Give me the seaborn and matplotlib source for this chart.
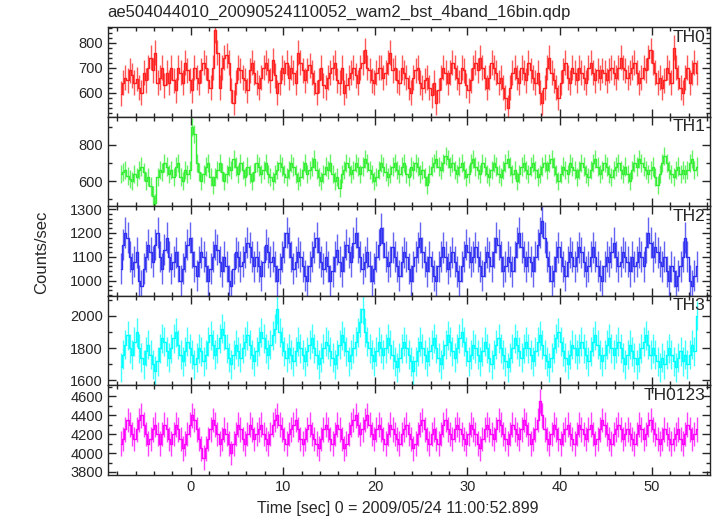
import numpy as np
import matplotlib
matplotlib.use('Agg')
import matplotlib.pyplot as plt
from matplotlib.ticker import MultipleLocator
import seaborn as sns

sns.set_style('ticks')
plt.rcParams['font.family'] = ['Liberation Sans', 'DejaVu Sans']

# time bins (s), 0.25 s per bin
t_start = -7.625
bin_size = 0.25

th0 = [595, 640, 660, 650, 690, 670, 640, 655, 620, 600, 680, 650, 700, 740, 690, 760, 640, 660, 700, 630,
       680, 640, 700, 650, 610, 700, 680, 640, 720, 690, 650, 610, 700, 660, 640, 690, 720, 700, 650, 620,
       700, 850, 760, 620, 700, 740, 750, 720, 610, 560, 640, 700, 690, 660, 650, 610, 690, 720, 680, 640,
       620, 660, 700, 720, 690, 650, 730, 670, 600, 640, 700, 680, 720, 660, 700, 680, 640, 760, 720, 690,
       650, 690, 710, 680, 640, 600, 650, 700, 630, 620, 660, 680, 700, 720, 650, 640, 700, 600, 630, 660,
       680, 700, 670, 640, 700, 720, 770, 700, 690, 650, 640, 680, 700, 700, 660, 680, 720, 760, 690, 700,
       650, 640, 700, 680, 660, 620, 600, 660, 690, 700, 640, 620, 650, 660, 620, 590, 640, 560, 610, 660,
       700, 680, 640, 680, 720, 700, 660, 640, 700, 690, 630, 610, 650, 700, 720, 690, 740, 700, 660, 620,
       660, 720, 700, 680, 640, 660, 620, 580, 540, 620, 680, 700, 660, 640, 700, 680, 650, 720, 690, 660,
       640, 680, 600, 560, 620, 700, 740, 680, 650, 620, 580, 640, 690, 720, 660, 640, 700, 680, 650, 700,
       680, 660, 640, 700, 720, 680, 650, 690, 660, 690, 680, 650, 690, 700, 680, 660, 700, 740, 700, 690,
       660, 680, 700, 720, 680, 640, 660, 700, 690, 740, 770, 720, 680, 640, 660, 620, 650, 700, 680, 640,
       780, 700, 660, 620, 600, 660, 700, 640, 680, 720, 680]

th1 = [640, 650, 660, 630, 610, 600, 640, 620, 660, 680, 650, 600, 620, 570, 520, 480, 620, 660, 650, 700,
       680, 640, 660, 620, 680, 700, 620, 600, 660, 640, 660, 900, 860, 700, 650, 600, 640, 680, 700, 620,
       580, 620, 660, 700, 650, 600, 640, 680, 660, 720, 680, 640, 700, 660, 620, 680, 640, 600, 650, 700,
       680, 640, 660, 700, 640, 620, 600, 640, 660, 700, 680, 640, 620, 660, 700, 680, 640, 600, 620, 660,
       700, 640, 660, 680, 720, 660, 620, 600, 640, 680, 660, 700, 640, 600, 620, 560, 640, 660, 700, 680,
       640, 660, 700, 680, 640, 680, 720, 700, 660, 640, 600, 620, 660, 700, 680, 650, 620, 640, 680, 700,
       660, 640, 680, 700, 640, 620, 680, 660, 700, 680, 640, 660, 620, 580, 640, 680, 700, 720, 680, 660,
       700, 740, 720, 680, 700, 660, 640, 680, 700, 660, 620, 640, 700, 720, 680, 660, 640, 700, 680, 640,
       620, 660, 700, 680, 640, 620, 660, 700, 720, 680, 640, 660, 600, 640, 680, 700, 660, 640, 680, 700,
       660, 620, 640, 680, 700, 660, 700, 720, 680, 640, 600, 640, 680, 660, 640, 700, 680, 660, 620, 660,
       700, 680, 640, 620, 660, 700, 720, 680, 640, 660, 700, 680, 640, 620, 660, 680, 700, 660, 640, 680,
       640, 600, 660, 700, 680, 720, 700, 680, 660, 640, 660, 680, 620, 580, 640, 700, 740, 700, 660, 640,
       620, 660, 680, 640, 660, 640, 660, 700, 720, 660, 680]

th2 = [1050, 1150, 1200, 1180, 1100, 1050, 1080, 1120, 1000, 980, 1050, 1100, 1150, 1120, 1080, 1150, 1200, 1100, 1050, 1130,
       1180, 1100, 1050, 1080, 1120, 1060, 1000, 1050, 1100, 1150, 1180, 1120, 1060, 1020, 1080, 1120, 1100, 1060, 1000, 1050,
       1100, 1150, 1130, 1080, 1040, 1100, 1060, 1000, 980, 1050, 1120, 1100, 1060, 1080, 1120, 1160, 1140, 1100, 1060, 1100,
       1060, 1020, 1080, 1150, 1120, 1080, 1100, 1060, 1000, 1050, 1100, 1140, 1200, 1160, 1100, 1050, 1080, 1120, 1100, 1060,
       1020, 1000, 1060, 1100, 1140, 1180, 1120, 1080, 1050, 1100, 1060, 1000, 1040, 1100, 1130, 1080, 1040, 1100, 1150, 1120,
       1080, 1160, 1200, 1140, 1100, 1050, 1080, 1120, 1060, 1000, 1050, 1100, 1150, 1220, 1160, 1100, 1060, 1080, 1140, 1100,
       1060, 1020, 1080, 1120, 1100, 1050, 1000, 1060, 1100, 1140, 1180, 1120, 1080, 1040, 1100, 1060, 1020, 1000, 1060, 1100,
       1140, 1100, 1050, 1080, 1120, 1080, 1040, 1000, 1060, 1100, 1150, 1120, 1080, 1100, 1140, 1100, 1060, 1020, 1080, 1120,
       1100, 1060, 1120, 1180, 1150, 1100, 1040, 1060, 1100, 1080, 1040, 1100, 1160, 1200, 1140, 1100, 1060, 1100, 1080, 1040,
       1100, 1150, 1200, 1250, 1180, 1100, 1060, 1000, 1040, 1100, 1140, 1100, 1060, 1020, 1080, 1120, 1100, 1060, 1100, 1140,
       1120, 1080, 1040, 1060, 1100, 1140, 1100, 1060, 1020, 1000, 1060, 1100, 1080, 1120, 1160, 1100, 1060, 1080, 1120, 1100,
       1080, 1040, 1100, 1060, 1080, 1120, 1100, 1060, 1140, 1200, 1160, 1100, 1140, 1120, 1080, 1060, 1100, 1040, 1000, 1060,
       1040, 980, 1020, 1060, 1100, 1180, 1100, 1000, 980, 1020, 1060]

th3 = [1680, 1760, 1820, 1880, 1800, 1760, 1840, 1900, 1800, 1740, 1700, 1780, 1820, 1760, 1700, 1660, 1720, 1800, 1860, 1840,
       1780, 1740, 1800, 1860, 1900, 1820, 1760, 1720, 1780, 1840, 1800, 1760, 1700, 1740, 1800, 1780, 1720, 1760, 1840, 1880,
       1820, 1760, 1800, 1860, 1920, 1880, 1800, 1740, 1700, 1760, 1820, 1780, 1740, 1800, 1840, 1880, 1820, 1760, 1720, 1780,
       1840, 1900, 1860, 1800, 1760, 1820, 1880, 1920, 2040, 1900, 1840, 1780, 1740, 1800, 1760, 1720, 1780, 1840, 1800, 1760,
       1720, 1780, 1820, 1860, 1800, 1760, 1700, 1740, 1800, 1840, 1820, 1780, 1740, 1700, 1760, 1820, 1880, 1840, 1780, 1720,
       1760, 1800, 1840, 1900, 1960, 2040, 1900, 1840, 1800, 1760, 1720, 1780, 1840, 1800, 1760, 1800, 1860, 1820, 1760, 1720,
       1680, 1740, 1800, 1840, 1800, 1760, 1720, 1660, 1720, 1780, 1840, 1800, 1760, 1720, 1780, 1820, 1860, 1800, 1740, 1700,
       1760, 1820, 1880, 1840, 1780, 1740, 1800, 1860, 1900, 1840, 1780, 1720, 1760, 1820, 1800, 1760, 1720, 1780, 1840, 1800,
       1740, 1700, 1760, 1820, 1860, 1800, 1760, 1720, 1680, 1740, 1800, 1860, 1820, 1780, 1740, 1800, 1840, 1800, 1760, 1720,
       1780, 1840, 1880, 1820, 1760, 1720, 1680, 1740, 1800, 1860, 1900, 1840, 1780, 1740, 1700, 1760, 1820, 1800, 1760, 1800,
       1840, 1800, 1760, 1720, 1780, 1840, 1880, 1820, 1760, 1720, 1760, 1820, 1860, 1800, 1760, 1800, 1840, 1800, 1740, 1700,
       1760, 1820, 1780, 1740, 1700, 1740, 1800, 1840, 1880, 1820, 1760, 1800, 1760, 1720, 1680, 1740, 1700, 1760, 1800, 1760,
       1720, 1680, 1740, 1780, 1720, 1760, 1700, 1760, 1820, 1780, 2000]

th0123 = [4100, 4150, 4250, 4350, 4300, 4200, 4150, 4250, 4350, 4400, 4300, 4200, 4100, 4150, 4250, 4300, 4200, 4100, 4200, 4300,
          4250, 4150, 4100, 4200, 4300, 4250, 4150, 4050, 4100, 4200, 4300, 4400, 4350, 4250, 4150, 4050, 3950, 4050, 4150, 4250,
          4350, 4300, 4200, 4100, 4150, 4250, 4200, 4100, 4000, 4100, 4200, 4300, 4250, 4150, 4100, 4200, 4300, 4250, 4150, 4200,
          4250, 4300, 4200, 4150, 4100, 4200, 4300, 4350, 4400, 4300, 4250, 4150, 4100, 4200, 4250, 4300, 4350, 4250, 4150, 4100,
          4150, 4250, 4300, 4200, 4150, 4100, 4050, 4150, 4250, 4300, 4250, 4150, 4100, 4200, 4300, 4250, 4150, 4050, 4100, 4200,
          4300, 4350, 4400, 4300, 4200, 4250, 4350, 4400, 4300, 4200, 4150, 4250, 4300, 4250, 4150, 4100, 4200, 4300, 4250, 4200,
          4150, 4100, 4200, 4250, 4300, 4200, 4150, 4050, 4100, 4200, 4300, 4350, 4250, 4150, 4100, 4200, 4250, 4150, 4100, 4200,
          4300, 4350, 4250, 4200, 4150, 4250, 4300, 4250, 4200, 4150, 4100, 4200, 4300, 4250, 4200, 4100, 4050, 4150, 4250, 4300,
          4250, 4200, 4150, 4250, 4350, 4300, 4200, 4150, 4100, 4200, 4300, 4250, 4200, 4150, 4250, 4350, 4300, 4200, 4100, 4150,
          4250, 4350, 4550, 4400, 4250, 4150, 4100, 4200, 4300, 4250, 4150, 4100, 4200, 4250, 4300, 4200, 4150, 4100, 4200, 4300,
          4250, 4200, 4150, 4250, 4300, 4200, 4100, 4150, 4250, 4350, 4300, 4200, 4150, 4100, 4200, 4250, 4300, 4250, 4150, 4200,
          4250, 4200, 4150, 4100, 4200, 4300, 4250, 4150, 4200, 4300, 4350, 4250, 4200, 4150, 4100, 4150, 4250, 4200, 4150, 4100,
          4150, 4200, 4250, 4150, 4100, 4200, 4300, 4250, 4150, 4200, 4250]

labels = ['TH0', 'TH1', 'TH2', 'TH3', 'TH0123']
series = [th0, th1, th2, th3, th0123]
errors = [50, 50, 65, 90, 130]
colors = ['#ff2020', '#33ee33', '#3030f0', '#00ffff', '#ff00ff']
ylims = [(504, 864), (461, 956), (937, 1312), (1569, 2125), (3768, 4716)]
major = [100, 200, 100, 200, 200]
minor = [20, 100, 20, 100, 100]

fig, axes = plt.subplots(5, 1, figsize=(7.17, 5.16), dpi=100, sharex=True)
fig.subplots_adjust(left=0.1506, right=0.990, top=0.9477, bottom=0.0795, hspace=0)

for i, ax in enumerate(axes):
    v = np.array(series[i], dtype=float)
    t = t_start + bin_size * np.arange(len(v))
    sns.lineplot(x=t, y=v, ax=ax, color=colors[i], lw=1, drawstyle='steps-mid', estimator=None)
    ax.errorbar(t, v, yerr=errors[i], fmt='none', ecolor=colors[i], elinewidth=1, capsize=0, alpha=0.75)
    ax.set_ylim(*ylims[i])
    ax.set_xlim(-9.0, 56.3)
    ax.yaxis.set_major_locator(MultipleLocator(major[i]))
    ax.yaxis.set_minor_locator(MultipleLocator(minor[i]))
    ax.xaxis.set_major_locator(MultipleLocator(10))
    ax.xaxis.set_minor_locator(MultipleLocator(2))
    ax.tick_params(which='both', direction='in', top=True, right=True, labelsize=10.5, width=1)
    ax.tick_params(which='major', length=6)
    ax.tick_params(which='minor', length=3)
    for s in ax.spines.values():
        s.set_linewidth(1)
    ax.set_xlabel('')
    ax.set_ylabel('')
    ax.text(0.993, 0.97, labels[i], transform=ax.transAxes, ha='right', va='top', fontsize=12.5)

fig.text(107 / 717, 1 - 12 / 516, 'ae504044010_20090524110052_wam2_bst_4band_16bin.qdp',
         ha='left', va='center', fontsize=12)
fig.text(42 / 717, 1 - 252 / 516, 'Counts/sec', rotation=90, ha='center', va='center', fontsize=12)
fig.text(398 / 717, 1 - 508 / 516, 'Time [sec] 0 = 2009/05/24 11:00:52.899', ha='center', va='center', fontsize=11.5)

fig.savefig('out.png', dpi=100)
